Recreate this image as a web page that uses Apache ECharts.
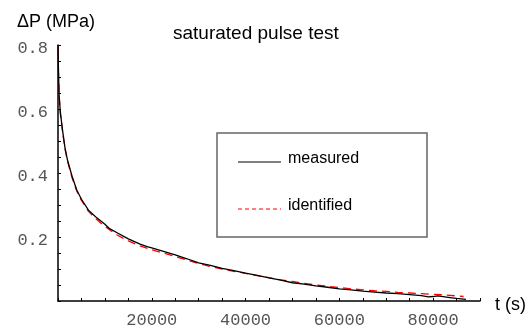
<!DOCTYPE html>
<html><head><meta charset="utf-8">
<script src="https://cdn.jsdelivr.net/npm/echarts@6/dist/echarts.min.js"></script>
<style>html,body{margin:0;padding:0;background:#fff}#c{width:531px;height:329px}</style>
</head><body><div id="c"></div>
<script>
const titleText = 'saturated pulse test';
const yAxisName = 'ΔP (MPa)';
const xAxisName = 't (s)';
const seriesNames = ['measured', 'identified'];
const xTickLabels = ['20000', '40000', '60000', '80000'];
const yTickLabels = ['0.2', '0.4', '0.6', '0.8'];

const measuredT = [0, 100, 250, 500, 1000, 1500, 2000, 3000, 4000, 5000, 6500, 8000, 10000, 11000, 12500, 15000, 17500, 19000, 20000, 22500, 25000, 27500, 30000, 32500, 35000, 37500, 40000, 42500, 45000, 47500, 50000, 52500, 55000, 57500, 60000, 62500, 65000, 67500, 70000, 72500, 75000, 77500, 79000, 80000, 81000, 82500, 84000, 85000, 87000];
const measuredP = [0.80, 0.72, 0.64, 0.59, 0.53, 0.478, 0.442, 0.39, 0.347, 0.318, 0.284, 0.263, 0.240, 0.226, 0.214, 0.194, 0.178, 0.170, 0.166, 0.155, 0.144, 0.132, 0.119, 0.111, 0.102, 0.095, 0.087, 0.080, 0.072, 0.065, 0.057, 0.053, 0.047, 0.043, 0.038, 0.035, 0.031, 0.028, 0.025, 0.023, 0.020, 0.017, 0.013, 0.014, 0.016, 0.013, 0.010, 0.008, 0.005];
const identifiedT = [0, 100, 250, 500, 1000, 1500, 2000, 3000, 4000, 5000, 6500, 8000, 10000, 12500, 15000, 17500, 20000, 22500, 25000, 27500, 30000, 32500, 35000, 37500, 40000, 42500, 45000, 47500, 50000, 52500, 55000, 57500, 60000, 62500, 65000, 67500, 70000, 72500, 75000, 77500, 80000, 82500, 85000, 86500];
const identifiedP = [0.80, 0.71, 0.64, 0.585, 0.525, 0.475, 0.438, 0.385, 0.344, 0.314, 0.280, 0.258, 0.233, 0.207, 0.188, 0.172, 0.160, 0.150, 0.139, 0.128, 0.117, 0.108, 0.100, 0.093, 0.086, 0.079, 0.073, 0.066, 0.061, 0.055, 0.050, 0.046, 0.042, 0.038, 0.035, 0.032, 0.030, 0.027, 0.025, 0.023, 0.021, 0.019, 0.016, 0.014];

const pairs = (t, p) => t.map((v, i) => [v, p[i]]);
const chart = echarts.init(document.getElementById('c'));
const tickFont = {fontFamily: 'Liberation Mono', fontSize: 17, color: '#555'};
const legendFont = {fontFamily: 'Liberation Sans', fontSize: 16, fill: '#000'};
chart.setOption({
  animation: false,
  backgroundColor: '#fff',
  title: {text: titleText, left: 173, top: 24, padding: 0,
    textStyle: {fontFamily: 'Liberation Sans', fontSize: 19, fontWeight: 'normal', color: '#000'}},
  grid: {left: 58, right: 51, top: 45, bottom: 24, containLabel: false},
  xAxis: {type: 'value', min: 0, max: 90000, interval: 5000,
    axisLine: {lineStyle: {color: '#000', width: 1.5}},
    axisTick: {inside: true, length: 3, lineStyle: {color: '#000'}},
    splitLine: {show: false},
    axisLabel: Object.assign({margin: 11,
      formatter: v => xTickLabels.includes(String(v)) ? String(v) : ''}, tickFont)},
  yAxis: {type: 'value', min: 0, max: 0.8, interval: 0.05,
    axisLine: {lineStyle: {color: '#000', width: 1.5}},
    axisTick: {inside: true, length: 3, lineStyle: {color: '#000'}},
    splitLine: {show: false},
    axisLabel: Object.assign({margin: 10, verticalAlign: 'top', lineHeight: 6,
      formatter: v => { const t = v.toFixed(1); return (Math.abs(v - parseFloat(t)) < 1e-6 && yTickLabels.includes(t)) ? t : ''; }}, tickFont)},
  graphic: [
    {type: 'rect', shape: {x: 217, y: 133, width: 210, height: 104}, z: 10,
      style: {fill: '#fff', stroke: '#666', lineWidth: 1.5}},
    {type: 'line', shape: {x1: 238, y1: 162, x2: 281, y2: 162}, z: 11,
      style: {stroke: '#000', lineWidth: 1}},
    {type: 'text', x: 288, y: 159, z: 11,
      style: Object.assign({text: seriesNames[0], verticalAlign: 'middle'}, legendFont)},
    {type: 'line', shape: {x1: 238, y1: 209, x2: 281, y2: 209}, z: 11,
      style: {stroke: '#f00', lineWidth: 1, lineDash: [4, 3]}},
    {type: 'text', x: 288, y: 206, z: 11,
      style: Object.assign({text: seriesNames[1], verticalAlign: 'middle'}, legendFont)},
    {type: 'text', left: 17, top: 13, style: {text: yAxisName, fontFamily: 'Liberation Sans', fontSize: 18, fill: '#000'}},
    {type: 'text', left: 495, top: 296, style: {text: xAxisName, fontFamily: 'Liberation Sans', fontSize: 18, fill: '#000'}}
  ],
  series: [
    {name: seriesNames[1], type: 'line', symbol: 'none', smooth: false, z: 2,
      data: pairs(identifiedT, identifiedP),
      lineStyle: {color: '#f00', width: 1.3, type: [8, 5]}, itemStyle: {color: '#f00'}},
    {name: seriesNames[0], type: 'line', symbol: 'none', smooth: false, z: 3,
      data: pairs(measuredT, measuredP),
      lineStyle: {color: '#000', width: 1.3}, itemStyle: {color: '#000'}}
  ]
});
</script></body></html>
